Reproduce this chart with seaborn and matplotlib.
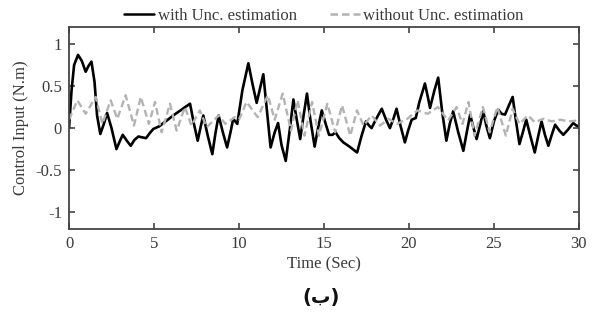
import numpy as np
import pandas as pd
import seaborn as sns
import matplotlib.pyplot as plt

# ---- data ----
t_with = [0.0, 0.15, 0.3, 0.53, 0.75, 0.98, 1.15, 1.32, 1.5, 1.65, 1.84, 2.05, 2.24, 2.5, 2.79,
          3.0, 3.16, 3.4, 3.63, 3.85, 4.08, 4.3, 4.53, 4.75, 4.96, 5.3, 6.2, 7.12, 7.35, 7.57,
          7.75, 7.9, 8.15, 8.43, 8.6, 8.8, 9.05, 9.3, 9.5, 9.66, 9.9, 10.2, 10.55, 10.8, 11.04,
          11.25, 11.43, 11.65, 11.86, 12.1, 12.3, 12.5, 12.75, 13.0, 13.2, 13.4, 13.6, 13.8, 14.0,
          14.2, 14.45, 14.65, 14.87, 15.1, 15.3, 15.5, 15.68, 15.9, 16.14, 16.5, 16.95, 17.2, 17.47,
          17.65, 17.8, 18.1, 18.4, 18.65, 18.88, 19.1, 19.27, 19.5, 19.76, 19.95, 20.16, 20.4, 20.6,
          20.94, 21.1, 21.24, 21.5, 21.72, 21.95, 22.2, 22.4, 22.6, 22.9, 23.2, 23.4, 23.6, 23.8,
          23.98, 24.2, 24.37, 24.55, 24.76, 25.0, 25.25, 25.45, 25.65, 25.9, 26.1, 26.3, 26.5, 26.7,
          26.9, 27.15, 27.4, 27.6, 27.8, 28.0, 28.2, 28.4, 28.6, 28.85, 29.08, 29.35, 29.66, 29.85, 30.0]
u_with = [0.0, 0.45, 0.75, 0.87, 0.80, 0.67, 0.74, 0.79, 0.55, 0.15, -0.07, 0.05, 0.18, 0.0, -0.25,
          -0.15, -0.08, -0.15, -0.21, -0.14, -0.10, -0.11, -0.12, -0.06, -0.01, 0.02, 0.16, 0.29, 0.05, -0.15,
          0.02, 0.15, -0.08, -0.31, -0.08, 0.15, -0.05, -0.23, -0.05, 0.11, 0.05, 0.45, 0.77, 0.52, 0.30,
          0.48, 0.64, 0.20, -0.23, -0.05, 0.06, -0.20, -0.39, 0.0, 0.34, 0.10, -0.13, 0.15, 0.41,
          0.10, -0.22, 0.0, 0.21, 0.05, -0.08, -0.08, -0.05, -0.12, -0.17, -0.22, -0.29, -0.10, 0.08,
          0.03, 0.0, 0.12, 0.23, 0.10, 0.0, 0.12, 0.23, 0.03, -0.17, -0.03, 0.10, 0.12, 0.30,
          0.53, 0.38, 0.24, 0.45, 0.60, 0.20, -0.15, 0.05, 0.20, -0.05, -0.27, -0.05, 0.16, 0.0,
          -0.13, 0.05, 0.20, 0.03, -0.12, 0.08, 0.22, 0.17, 0.16, 0.28, 0.37, 0.08, -0.19, -0.05,
          0.10, -0.10, -0.29, -0.10, 0.08, -0.08, -0.21, -0.08, 0.04, -0.03, -0.08, -0.02, 0.06, 0.03, 0.02]

t_without = [0.0, 0.49, 0.98, 1.57, 1.96, 2.45, 2.84, 3.33, 3.82, 4.22, 4.7, 5.06, 5.45, 5.94, 6.33,
             6.82, 7.2, 7.7, 8.1, 8.8, 9.2, 9.76, 10.0, 10.45, 11.1, 11.7, 12.1, 12.57, 13.06, 13.45,
             13.85, 14.3, 14.7, 15.2, 15.66, 16.06, 16.55, 16.94, 17.33, 17.8, 18.3, 18.8, 19.3, 19.9,
             20.5, 21.1, 21.7, 22.3, 22.8, 23.15, 23.5, 23.86, 24.35, 24.75, 25.2, 25.7, 26.1, 26.5,
             27.0, 27.4, 27.9, 28.4, 28.9, 29.4, 30.0]
u_without = [0.10, 0.33, 0.17, 0.37, 0.05, 0.33, 0.11, 0.39, 0.03, 0.37, 0.05, 0.31, -0.05, 0.29, -0.03,
             0.25, 0.03, 0.21, 0.01, 0.15, 0.05, 0.13, 0.10, 0.31, 0.13, 0.39, 0.10, 0.41, -0.03, 0.33,
             -0.09, 0.31, -0.09, 0.29, -0.05, 0.27, -0.09, 0.21, 0.03, 0.15, 0.03, 0.11, 0.05, 0.11,
             0.21, 0.17, 0.25, 0.09, 0.25, 0.05, 0.31, -0.09, 0.25, -0.05, 0.25, -0.09, 0.23, 0.05,
             0.15, 0.07, 0.11, 0.08, 0.10, 0.08, 0.09]

x_ticks = [0, 5, 10, 15, 20, 25, 30]
y_ticks = [-1, -0.5, 0, 0.5, 1]
y_tick_labels = ["-1", "-0.5", "0", "0.5", "1"]

# ---- style ----
sns.set_theme(style="ticks")
plt.rcParams["font.family"] = ["Liberation Serif", "DejaVu Serif"]
TXT = "#3a3a3a"

df_with = pd.DataFrame({"t": t_with, "u": u_with})
df_without = pd.DataFrame({"t": t_without, "u": u_without})

fig = plt.figure(figsize=(5.95, 3.31), dpi=100)
ax = fig.add_axes([0.116, 0.308, 0.857, 0.61])

sns.lineplot(data=df_with, x="t", y="u", color="black", lw=1.9,
             sort=False, estimator=None, ax=ax, label="with Unc. estimation")
sns.lineplot(data=df_without, x="t", y="u", color="#b3b3b3", lw=1.7,
             sort=False, estimator=None, ax=ax, label="without Unc. estimation")
ax.lines[0].set_solid_joinstyle("round")
ax.lines[1].set_dashes([3, 1.6])

ax.set_xlim(0, 30)
ax.set_ylim(-1.2, 1.2)
ax.set_xticks(x_ticks)
ax.set_xticklabels([str(v) for v in x_ticks])
ax.set_yticks(y_ticks)
ax.set_yticklabels(y_tick_labels)
ax.tick_params(direction="in", top=True, right=True, length=4, width=1.2,
               colors="#444444", labelcolor=TXT, labelsize=12, pad=5,
               labeltop=False, labelright=False)
for s in ax.spines.values():
    s.set_color("#444444")
    s.set_linewidth(1.3)

ax.set_xlabel("Time (Sec)", fontsize=12, color=TXT, labelpad=3)
ax.set_ylabel("Control Input (N.m)", fontsize=12, color=TXT, labelpad=5)

leg = ax.legend(loc="lower center", bbox_to_anchor=(0.5, 0.985), ncol=2, frameon=False,
                fontsize=12, handlelength=1.8, handletextpad=0.2, columnspacing=2.0,
                borderaxespad=0, labelcolor=TXT)
for h in leg.get_lines():
    h.set_linewidth(1.8)

fig.text(0.54, 0.10, "(ب)", ha="center", va="center", fontsize=14, fontweight="bold",
         family=["DejaVu Sans"], color="#111111")

fig.savefig("out.png", dpi=100, facecolor="white")
